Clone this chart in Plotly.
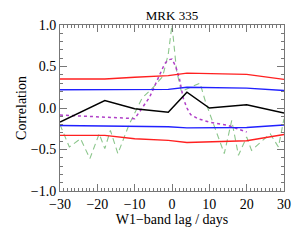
import plotly.graph_objects as go

# Data
lags_main = [-30, -18, -10, -1, 4, 10, 20, 30]
ccf_black = [-0.17, 0.09, -0.01, -0.05, 0.19, 0.0, 0.04, -0.06]
red_upper = [0.35, 0.35, 0.37, 0.39, 0.42, 0.415, 0.405, 0.345]
red_lower = [-0.33, -0.33, -0.37, -0.39, -0.415, -0.405, -0.395, -0.32]
blue_upper = [0.22, 0.22, 0.22, 0.225, 0.25, 0.245, 0.24, 0.21]
blue_lower = [-0.21, -0.215, -0.22, -0.225, -0.24, -0.235, -0.235, -0.205]

lags_purple = [-30, -18, -11, -10, -8, -6, -4, -3, -2, -1, 0, 1, 2, 3, 4, 5, 7, 10, 15, 20]
acf_purple = [-0.085, -0.105, -0.125, -0.13, 0.0, 0.13, 0.33, 0.44, 0.53, 0.58, 0.59, 0.50,
              0.35, 0.12, 0.0, -0.08, -0.13, -0.17, -0.21, -0.29]

lags_green = [-30, -27.5, -24.5, -22, -19.5, -18, -16.5, -14.5, -11.5, -8, -5, -2.5, -1, 0,
              1.2, 2.5, 5, 7.5, 9, 11, 14, 16, 17.8, 20, 21.3, 26.3, 28.5, 30]
acf_green = [-0.2, -0.47, -0.37, -0.61, -0.31, -0.49, -0.27, -0.55, -0.2, 0.12, 0.25, 0.38,
             0.65, 1.0, 0.46, 0.2, 0.25, 0.3, 0.07, -0.17, -0.55, -0.15, -0.57, -0.35, -0.51,
             -0.31, -0.47, -0.13]

x_ticks = [-30, -20, -10, 0, 10, 20, 30]
y_ticks = [-1.0, -0.5, 0.0, 0.5, 1.0]

FONT = "Liberation Serif"

fig = go.Figure()
fig.add_trace(go.Scatter(x=lags_green, y=acf_green, mode="lines",
                         line=dict(color="#8cc68c", width=1.1, dash="6px,4px")))
fig.add_trace(go.Scatter(x=lags_purple, y=acf_purple, mode="lines",
                         line=dict(color="#b040c8", width=1.5, dash="dot")))
fig.add_trace(go.Scatter(x=lags_main, y=red_upper, mode="lines",
                         line=dict(color="#ff2020", width=1.4)))
fig.add_trace(go.Scatter(x=lags_main, y=red_lower, mode="lines",
                         line=dict(color="#ff2020", width=1.4)))
fig.add_trace(go.Scatter(x=lags_main, y=blue_upper, mode="lines",
                         line=dict(color="#2020ff", width=1.4)))
fig.add_trace(go.Scatter(x=lags_main, y=blue_lower, mode="lines",
                         line=dict(color="#2020ff", width=1.4)))
fig.add_trace(go.Scatter(x=lags_main, y=ccf_black, mode="lines",
                         line=dict(color="black", width=1.5)))

axis_common = dict(showgrid=False, zeroline=False, showline=True, linecolor="#777777",
                   linewidth=1, mirror="ticks", ticks="inside", tickcolor="#777777",
                   ticklen=7, tickwidth=1, automargin=False,
                   tickfont=dict(family=FONT, size=14, color="black"))

fig.update_xaxes(range=[-30, 30], tickvals=x_ticks,
                 minor=dict(dtick=1, ticks="inside", ticklen=3, tickcolor="#777777", showgrid=False),
                 title=dict(text="W1\u2212band lag / days", font=dict(family=FONT, size=14, color="black"), standoff=3),
                 **axis_common)
fig.update_yaxes(range=[-1, 1], tickvals=y_ticks, tickformat=".1f",
                 minor=dict(dtick=0.1, ticks="inside", ticklen=3, tickcolor="#777777", showgrid=False),
                 title=dict(text="Correlation", font=dict(family=FONT, size=14, color="black"), standoff=0),
                 **axis_common)

fig.update_layout(
    width=292, height=232,
    margin=dict(l=52, r=16, t=17, b=49),
    paper_bgcolor="white", plot_bgcolor="white",
    showlegend=False,
    title=dict(text="MRK 335", xref="paper", x=0.5, xanchor="center",
               yref="container", y=1 - 3 / 232, yanchor="top",
               font=dict(family=FONT, size=13, color="black")),
)

fig.write_html("out.html")
